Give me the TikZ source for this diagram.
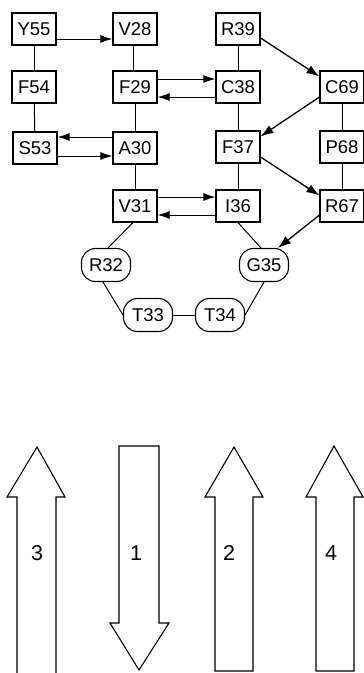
\documentclass[tikz,border=0pt]{standalone}
\usepackage{fontspec}
\setmainfont{Liberation Sans}
\newfontfamily\labfont[Scale=1.85]{Liberation Sans}
\newfontfamily\numfont[Scale=2.15]{Liberation Sans}
\usetikzlibrary{arrows.meta}
\begin{document}
\begin{tikzpicture}[x=1pt,y=-1pt,
  res/.style={draw, line width=1.1pt, minimum width=44pt, minimum height=32pt, inner sep=0pt, font=\labfont},
  rres/.style={res, rounded corners=14pt, minimum width=49pt, minimum height=33pt},
  link/.style={line width=1pt},
  arr/.style={line width=1pt, -{Latex[length=12pt,width=8pt]}},
  darr/.style={line width=1.3pt, -{Latex[length=13pt,width=9pt]}},
  strand/.style={line width=1.1pt, line join=miter},
  snum/.style={font=\numfont, inner sep=0pt}]
\useasboundingbox (0,0) rectangle (364,673);
% row 1
\node[res] (Y55) at (34,29) {Y55};
\node[res] (V28) at (135,29) {V28};
\node[res] (R39) at (238,29) {R39};
% row 2
\node[res] (F54) at (34,87) {F54};
\node[res] (F29) at (135,87) {F29};
\node[res] (C38) at (238,87) {C38};
\node[res] (C69) at (342,87) {C69};
% row 3
\node[res] (S53) at (35,148) {S53};
\node[res] (A30) at (135,148) {A30};
\node[res] (F37) at (238,147) {F37};
\node[res] (P68) at (342,147) {P68};
% row 4
\node[res] (V31) at (135,206) {V31};
\node[res] (I36) at (238,206) {I36};
\node[res] (R67) at (342,206) {R67};
% loop
\node[rres] (R32) at (106,265) {R32};
\node[rres] (G35) at (264,265) {G35};
\node[rres] (T33) at (148,315) {T33};
\node[rres] (T34) at (220,315) {T34};
% plain links
\draw[link] (Y55) -- (F54);
\draw[link] (F54) -- (S53);
\draw[link] ([xshift=-2pt]V28.south) -- ([xshift=-2pt]F29.north);
\draw[link] (F29) -- (A30);
\draw[link] (A30) -- (V31);
\draw[link] (R39) -- (C38);
\draw[link] (C38) -- (F37);
\draw[link] (F37) -- (I36);
\draw[link] (C69) -- (P68);
\draw[link] (P68) -- (R67);
\draw[link] ([xshift=-2pt]V31.south) -- ([xshift=2pt]R32.north);
\draw[link] (I36.south) -- ([xshift=-3pt]G35.north);
\draw[link] ([xshift=-3pt]R32.south) -- (T33.west);
\draw[link] (T33) -- (T34);
\draw[link] (T34.east) -- (G35.south);
% horizontal arrows
\draw[arr] ([yshift=-10pt]Y55.east) -- ([yshift=-10pt]V28.west);
\draw[arr] ([yshift=8pt]F29.east) -- ([yshift=8pt]C38.west);
\draw[arr] ([yshift=-10pt]C38.west) -- ([yshift=-10pt]F29.east);
\draw[arr] ([yshift=11pt]A30.west) -- ([yshift=11pt]S53.east);
\draw[arr] ([yshift=-8pt]S53.east) -- ([yshift=-8pt]A30.west);
\draw[arr] ([yshift=9pt]V31.east) -- ([yshift=9pt]I36.west);
\draw[arr] ([yshift=-9pt]I36.west) -- ([yshift=-9pt]V31.east);
% diagonal arrows
\draw[darr] ([yshift=-9pt]R39.east) -- ([yshift=-6pt]C69.north west);
\draw[darr] ([yshift=-10pt]C69.west) -- ([yshift=-6pt]F37.north east);
\draw[darr] ([yshift=-10pt]F37.east) -- ([yshift=-6pt]R67.north west);
\draw[darr] ([yshift=-9pt]R67.west) -- ([xshift=14pt]G35.north);
% strand arrows
\draw[strand] (17,673) -- (17,497) -- (7,497) -- (37,447) -- (65,497) -- (56,497) -- (56,673);
\draw[strand] (119,446) -- (159,446) -- (159,623) -- (169,623) -- (139,670) -- (110,623) -- (119,623) -- cycle;
\draw[strand] (215,671) -- (215,497) -- (205,497) -- (234,447) -- (263,497) -- (253,497) -- (253,671) -- cycle;
\draw[strand] (316,671) -- (316,497) -- (306,497) -- (334,446) -- (363,497) -- (354,497) -- (354,671) -- cycle;
\node[snum] (s3) at (37,553) {3};
\node[snum] (s1) at (136,553) {1};
\node[snum] (s2) at (229,553) {2};
\node[snum] (s4) at (331,553) {4};
\end{tikzpicture}
\end{document}
